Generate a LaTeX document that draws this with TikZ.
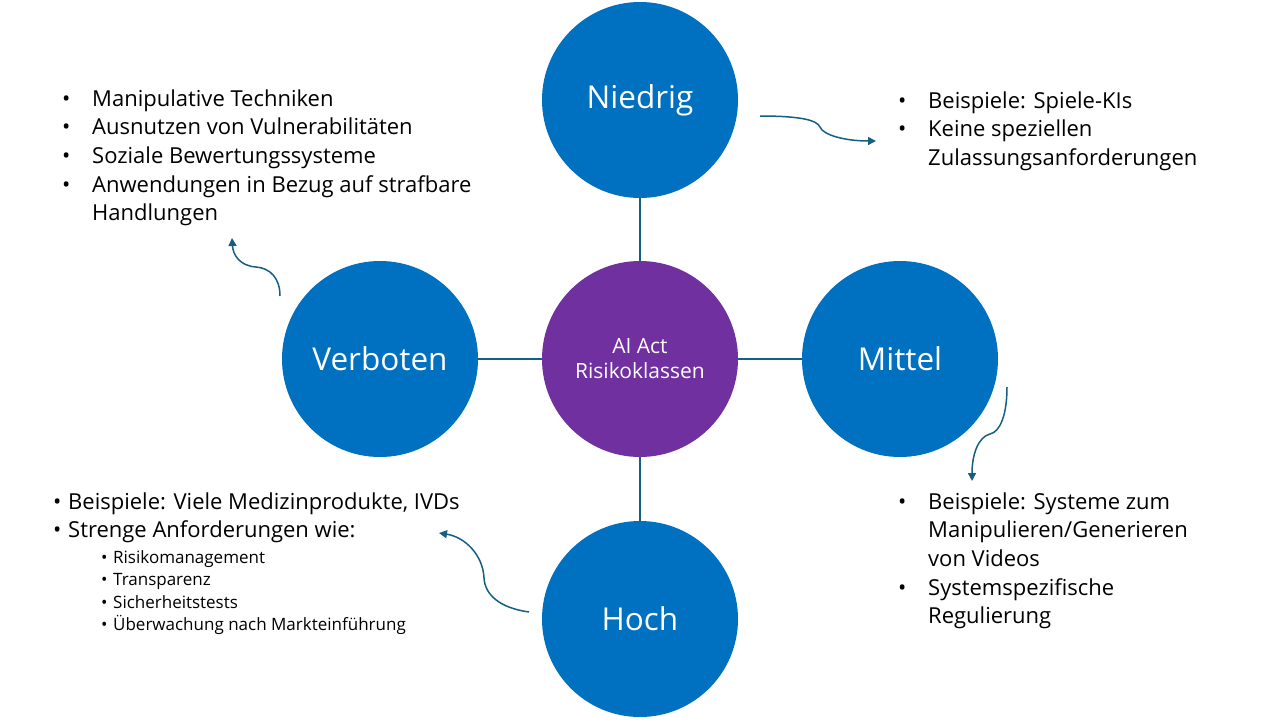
\documentclass[tikz,border=0pt]{standalone}
\usepackage{fontspec}
\setmainfont{Open Sans}
\usetikzlibrary{arrows.meta,positioning}
\definecolor{kiblue}{HTML}{0070C0}
\definecolor{kipurple}{HTML}{7030A0}
\definecolor{kiline}{HTML}{156082}
\newcommand{\bul}{\textbullet}

\begin{document}
\begin{tikzpicture}[x=1pt,y=-1pt,
  class/.style={circle,fill=kiblue,minimum size=196pt,inner sep=0pt,text=white,font=\fontsize{31.5}{36}\selectfont},
  hub/.style={circle,fill=kipurple,minimum size=196pt,inner sep=0pt,text=white,align=center,font=\fontsize{21}{25}\selectfont},
  txt/.style={anchor=base west,inner sep=0pt,font=\fontsize{22}{28.7}\selectfont},
  conn/.style={draw=kiline,line width=1.5pt},
  arr/.style={draw=kiline,line width=1.5pt,-{Triangle[length=8pt,width=8pt]}}]
\useasboundingbox (0,0) rectangle (1280,720);
% circles
\node[hub] (C) at (640,359) {AI Act\\Risikoklassen};
\node[class] (N) at (640,100) {Niedrig};
\node[class] (V) at (380,359) {Verboten};
\node[class] (M) at (900,359) {Mittel};
\node[class] (H) at (640,619) {Hoch};
\path[conn]
(N) edge (C)
(V) edge (C)
(M) edge (C)
(H) edge (C);
% text blocks
\node[txt] (tV) at (62,106) {\begin{tabular}[t]{@{}p{30pt}@{}l@{}}
\bul & Manipulative Techniken\\
\bul & Ausnutzen von Vulnerabilitäten\\
\bul & Soziale Bewertungssysteme\\
\bul & Anwendungen in Bezug auf strafbare\\
     & Handlungen
\end{tabular}};
\node[txt] (tN) at (898,108) {\begin{tabular}[t]{@{}p{30pt}@{}l@{}}
\bul & Beispiele: Spiele-KIs\\
\bul & Keine speziellen\\
     & Zulassungsanforderungen
\end{tabular}};
\node[txt] (tM) at (898,509) {\begin{tabular}[t]{@{}p{30pt}@{}l@{}}
\bul & Beispiele: Systeme zum\\
     & Manipulieren/Generieren\\
     & von Videos\\
\bul & Systemspezifische\\
     & Regulierung
\end{tabular}};
\node[txt] (tH) at (53,509) {\begin{tabular}[t]{@{}p{15pt}@{}l@{}}
\bul & Beispiele: Viele Medizinprodukte, IVDs\\
\bul & Strenge Anforderungen wie:
\end{tabular}};
\node[txt,font=\fontsize{17}{22.5}\selectfont] (tH2) at (101,563) {\begin{tabular}[t]{@{}p{12pt}@{}l@{}}
\bul & Risikomanagement\\
\bul & Transparenz\\
\bul & Sicherheitstests\\
\bul & Überwachung nach Markteinführung
\end{tabular}};
% curved arrows
\coordinate (a1) at (760,116);
\coordinate (b1) at (876,141);
\coordinate (a2) at (280,296);
\coordinate (b2) at (232,238);
\coordinate (a3) at (1007,387);
\coordinate (b3) at (972,481);
\coordinate (a4) at (529,612);
\coordinate (b4) at (439,533);
\draw[arr] (a1) .. controls (800,116) and (817,120) .. (820,127) .. controls (823,135) and (845,141) .. (b1);
\draw[arr] (a2) .. controls (280,278) and (270,268) .. (256,267) .. controls (240,266) and (233,255) .. (b2);
\draw[arr] (a3) .. controls (1007,415) and (1000,432) .. (990,434) .. controls (978,437) and (972,455) .. (b3);
\draw[arr] (a4) .. controls (500,608) and (485,595) .. (484,578) .. controls (483,555) and (465,537) .. (b4);
\end{tikzpicture}
\end{document}
